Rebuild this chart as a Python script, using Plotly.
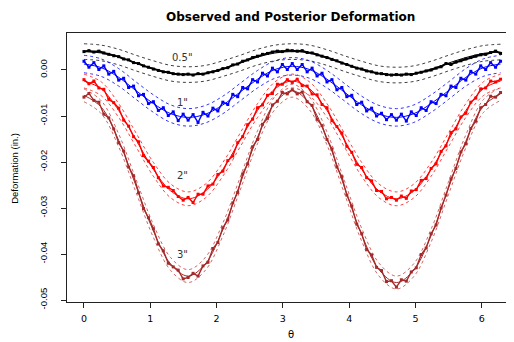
import numpy as np
import plotly.graph_objects as go

# ---------------- data ----------------
N_OBS = 85            # observed sample positions over [0, 2*pi]
N_FIT = 25            # posterior curve knots over [0, 2*pi]
theta_obs = np.linspace(0, 2 * np.pi, N_OBS)
theta_fit = np.linspace(0, 2 * np.pi, N_FIT)

labels = ['0.5"', '1"', '2"', '3"']
label_theta = 1.48
label_y = [0.0028, -0.0070, -0.0229, -0.0400]

obs_05 = [0.0040, 0.0042, 0.0039, 0.0041, 0.0037, 0.0034, 0.0031, 0.0029, 0.0024, 0.0022,
          0.0016, 0.0014, 0.0009, 0.0006, 0.0002, -0.0001, -0.0004, -0.0005, -0.0008, -0.0009,
          -0.0010, -0.0009, -0.0011, -0.0008, -0.0009, -0.0006, -0.0004, -0.0001, 0.0003, 0.0005,
          0.0011, 0.0013, 0.0019, 0.0022, 0.0027, 0.0030, 0.0034, 0.0036, 0.0039, 0.0041,
          0.0040, 0.0043, 0.0042, 0.0041, 0.0042, 0.0038, 0.0037, 0.0033, 0.0030, 0.0027,
          0.0023, 0.0020, 0.0015, 0.0012, 0.0008, 0.0004, 0.0002, -0.0002, -0.0004, -0.0007,
          -0.0008, -0.0010, -0.0011, -0.0010, -0.0011, -0.0009, -0.0010, -0.0007, -0.0005, -0.0002,
          0.0000, 0.0004, 0.0007, 0.0014, 0.0012, 0.0017, 0.0020, 0.0024, 0.0027, 0.0030,
          0.0033, 0.0034, 0.0038, 0.0041, 0.0036]

obs_1 = [0.0019, 0.0006, 0.0016, 0.0001, 0.0009, -0.0009, -0.0003, -0.0022, -0.0018, -0.0038,
         -0.0035, -0.0056, -0.0053, -0.0073, -0.0069, -0.0088, -0.0082, -0.0099, -0.0091, -0.0110,
         -0.0096, -0.0109, -0.0097, -0.0114, -0.0092, -0.0100, -0.0083, -0.0089, -0.0070, -0.0075,
         -0.0053, -0.0058, -0.0038, -0.0041, -0.0021, -0.0026, -0.0007, -0.0013, 0.0004, -0.0004,
         0.0012, 0.0001, 0.0014, 0.0001, 0.0012, -0.0004, 0.0004, -0.0013, -0.0007, -0.0026,
         -0.0021, -0.0043, -0.0038, -0.0058, -0.0055, -0.0075, -0.0070, -0.0089, -0.0083, -0.0100,
         -0.0094, -0.0108, -0.0097, -0.0109, -0.0096, -0.0111, -0.0091, -0.0099, -0.0082, -0.0088,
         -0.0069, -0.0073, -0.0053, -0.0056, -0.0035, -0.0038, -0.0018, -0.0022, -0.0003, -0.0009,
         0.0009, 0.0001, 0.0016, 0.0006, 0.0019]

obs_2 = [-0.0021, -0.0030, -0.0024, -0.0039, -0.0042, -0.0064, -0.0071, -0.0083, -0.0109, -0.0122,
         -0.0145, -0.0156, -0.0186, -0.0198, -0.0212, -0.0234, -0.0252, -0.0255, -0.0262, -0.0275,
         -0.0283, -0.0277, -0.0288, -0.0270, -0.0270, -0.0252, -0.0248, -0.0227, -0.0220, -0.0197,
         -0.0187, -0.0158, -0.0145, -0.0119, -0.0107, -0.0082, -0.0076, -0.0055, -0.0051, -0.0031,
         -0.0031, -0.0021, -0.0027, -0.0020, -0.0034, -0.0035, -0.0052, -0.0054, -0.0075, -0.0082,
         -0.0110, -0.0123, -0.0137, -0.0166, -0.0179, -0.0205, -0.0212, -0.0234, -0.0241, -0.0262,
         -0.0264, -0.0280, -0.0277, -0.0283, -0.0274, -0.0279, -0.0263, -0.0260, -0.0240, -0.0236,
         -0.0214, -0.0204, -0.0177, -0.0165, -0.0136, -0.0128, -0.0102, -0.0094, -0.0070, -0.0061,
         -0.0041, -0.0039, -0.0024, -0.0026, -0.0020]

obs_3 = [-0.0059, -0.0051, -0.0066, -0.0070, -0.0096, -0.0104, -0.0128, -0.0158, -0.0176, -0.0211,
         -0.0230, -0.0267, -0.0301, -0.0321, -0.0345, -0.0378, -0.0393, -0.0420, -0.0428, -0.0435,
         -0.0454, -0.0451, -0.0442, -0.0448, -0.0426, -0.0418, -0.0388, -0.0375, -0.0343, -0.0326,
         -0.0289, -0.0266, -0.0226, -0.0204, -0.0167, -0.0151, -0.0118, -0.0105, -0.0076, -0.0068,
         -0.0049, -0.0052, -0.0043, -0.0052, -0.0048, -0.0069, -0.0077, -0.0107, -0.0121, -0.0151,
         -0.0172, -0.0211, -0.0232, -0.0272, -0.0296, -0.0335, -0.0356, -0.0390, -0.0402, -0.0429,
         -0.0436, -0.0460, -0.0458, -0.0472, -0.0456, -0.0459, -0.0439, -0.0430, -0.0401, -0.0387,
         -0.0356, -0.0337, -0.0300, -0.0272, -0.0237, -0.0214, -0.0178, -0.0160, -0.0127, -0.0111,
         -0.0082, -0.0075, -0.0057, -0.0059, -0.0049]

mean_05 = [0.0040, 0.0037, 0.0028, 0.0015, 0.0003, -0.0007, -0.0010, -0.0007, 0.0003, 0.0015,
           0.0028, 0.0037, 0.0040, 0.0037, 0.0027, 0.0014, 0.0002, -0.0008, -0.0011, -0.0008,
           0.0002, 0.0015, 0.0027, 0.0036, 0.0039]
upper_05 = [0.0057, 0.0054, 0.0045, 0.0032, 0.0020, 0.0010, 0.0007, 0.0010, 0.0020, 0.0032,
            0.0045, 0.0054, 0.0057, 0.0054, 0.0044, 0.0031, 0.0019, 0.0009, 0.0006, 0.0009,
            0.0019, 0.0032, 0.0044, 0.0053, 0.0056]
lower_05 = [0.0023, 0.0020, 0.0011, -0.0002, -0.0014, -0.0024, -0.0027, -0.0024, -0.0014, -0.0002,
            0.0011, 0.0020, 0.0023, 0.0020, 0.0010, -0.0003, -0.0015, -0.0025, -0.0028, -0.0025,
            -0.0015, -0.0002, 0.0010, 0.0019, 0.0022]

mean_1 = [0.0013, 0.0005, -0.0016, -0.0045, -0.0073, -0.0095, -0.0103, -0.0096, -0.0076, -0.0048,
          -0.0020, 0.0001, 0.0008, 0.0001, -0.0020, -0.0048, -0.0076, -0.0096, -0.0103, -0.0095,
          -0.0073, -0.0045, -0.0016, 0.0005, 0.0013]
upper_1 = [0.0032, 0.0024, 0.0003, -0.0026, -0.0054, -0.0076, -0.0084, -0.0077, -0.0057, -0.0029,
           -0.0001, 0.0020, 0.0027, 0.0020, -0.0001, -0.0029, -0.0057, -0.0077, -0.0084, -0.0076,
           -0.0054, -0.0026, 0.0003, 0.0024, 0.0032]
lower_1 = [-0.0006, -0.0014, -0.0035, -0.0064, -0.0092, -0.0114, -0.0122, -0.0115, -0.0095, -0.0067,
           -0.0039, -0.0018, -0.0011, -0.0018, -0.0039, -0.0067, -0.0095, -0.0115, -0.0122, -0.0114,
           -0.0092, -0.0064, -0.0035, -0.0014, -0.0006]

mean_2 = [-0.0024, -0.0041, -0.0088, -0.0152, -0.0216, -0.0263, -0.0280, -0.0263, -0.0216, -0.0152,
          -0.0088, -0.0041, -0.0024, -0.0041, -0.0088, -0.0152, -0.0216, -0.0263, -0.0280, -0.0263,
          -0.0216, -0.0152, -0.0088, -0.0041, -0.0024]
upper_2 = [-0.0009, -0.0026, -0.0073, -0.0137, -0.0201, -0.0248, -0.0265, -0.0248, -0.0201, -0.0137,
           -0.0073, -0.0026, -0.0009, -0.0026, -0.0073, -0.0137, -0.0201, -0.0248, -0.0265, -0.0248,
           -0.0201, -0.0137, -0.0073, -0.0026, -0.0009]
lower_2 = [-0.0039, -0.0056, -0.0103, -0.0167, -0.0231, -0.0278, -0.0295, -0.0278, -0.0231, -0.0167,
           -0.0103, -0.0056, -0.0039, -0.0056, -0.0103, -0.0167, -0.0231, -0.0278, -0.0295, -0.0278,
           -0.0231, -0.0167, -0.0103, -0.0056, -0.0039]

mean_3 = [-0.0055, -0.0081, -0.0153, -0.0252, -0.0350, -0.0422, -0.0448, -0.0421, -0.0347, -0.0247,
          -0.0146, -0.0072, -0.0045, -0.0073, -0.0149, -0.0254, -0.0358, -0.0434, -0.0462, -0.0435,
          -0.0360, -0.0257, -0.0155, -0.0079, -0.0052]
upper_3 = [-0.0041, -0.0067, -0.0139, -0.0238, -0.0336, -0.0408, -0.0434, -0.0407, -0.0333, -0.0233,
           -0.0132, -0.0058, -0.0031, -0.0059, -0.0135, -0.0240, -0.0344, -0.0420, -0.0448, -0.0421,
           -0.0346, -0.0243, -0.0141, -0.0065, -0.0038]
lower_3 = [-0.0069, -0.0095, -0.0167, -0.0266, -0.0364, -0.0436, -0.0462, -0.0435, -0.0361, -0.0261,
           -0.0160, -0.0086, -0.0059, -0.0087, -0.0163, -0.0268, -0.0372, -0.0448, -0.0476, -0.0449,
           -0.0374, -0.0271, -0.0169, -0.0093, -0.0066]

x_ticks = [0, 1, 2, 3, 4, 5, 6]
y_ticks = [0.00, -0.01, -0.02, -0.03, -0.04, -0.05]
y_ticktext = ["0.00", "-0.01", "-0.02", "-0.03", "-0.04", "-0.05"]

# ---------------- figure ----------------
series = [
    (obs_05, mean_05, upper_05, lower_05, "#000000", "rgba(0,0,0,0.75)", 2.0),
    (obs_1, mean_1, upper_1, lower_1, "#0000FF", "rgba(0,0,255,0.8)", 1.4),
    (obs_2, mean_2, upper_2, lower_2, "#FF0000", "rgba(255,0,0,0.75)", 1.4),
    (obs_3, mean_3, upper_3, lower_3, "#A52A2A", "rgba(190,50,50,0.75)", 1.4),
]

fig = go.Figure()
for obs, mean, up, lo, col, bandcol, lw in series:
    fig.add_trace(go.Scatter(x=theta_obs, y=obs, mode="lines+markers",
                             line=dict(color=col, width=lw),
                             marker=dict(color=col, size=3, symbol="square"),
                             showlegend=False, hoverinfo="skip"))
    fig.add_trace(go.Scatter(x=theta_fit, y=mean, mode="lines",
                             line=dict(color=col, width=1, shape="spline"),
                             showlegend=False, hoverinfo="skip"))
    for b in (up, lo):
        fig.add_trace(go.Scatter(x=theta_fit, y=b, mode="lines",
                                 line=dict(color=bandcol, width=1, dash="3px,3px", shape="spline"),
                                 showlegend=False, hoverinfo="skip"))

for lab, ly in zip(labels, label_y):
    fig.add_annotation(x=label_theta, y=ly, text=lab, showarrow=False,
                       font=dict(family="DejaVu Sans", size=10, color="#333333"),
                       xanchor="center", yanchor="middle")

# title & axis titles
fig.add_annotation(xref="paper", yref="paper", x=0.501, y=1.0925,
                   text="<b>Observed and Posterior Deformation</b>", showarrow=False,
                   font=dict(family="DejaVu Sans", size=12, color="#000000"),
                   xanchor="center", yanchor="top")
fig.add_annotation(xref="paper", yref="paper", x=-0.119, y=0.498,
                   text="Deformation (in.)", showarrow=False, textangle=-90,
                   font=dict(family="Liberation Sans", size=9.5, color="#000000"),
                   xanchor="center", yanchor="middle")
fig.add_annotation(xref="paper", yref="paper", x=0.501, y=-0.120,
                   text="θ", showarrow=False,
                   font=dict(family="DejaVu Sans", size=10, color="#000000"),
                   xanchor="center", yanchor="middle")

# page body has an 8px default margin: figure is sized/offset so the plot box
# lands where the reference has it (left 67px, top 33px, bottom 302px)
fig.update_layout(
    width=506, height=334, autosize=False,
    margin=dict(l=59, r=0, t=25, b=40, pad=0),
    paper_bgcolor="white", plot_bgcolor="white",
    showlegend=False,
)
fig.update_xaxes(range=[-0.256, 6.486], tickvals=x_ticks, ticktext=[str(v) for v in x_ticks],
                 showgrid=False, zeroline=False, automargin=False,
                 showline=True, mirror=True, linecolor="#222222", linewidth=1,
                 ticks="outside", ticklen=5, tickcolor="#222222", tickwidth=1,
                 ticklabelstandoff=3,
                 tickfont=dict(family="DejaVu Sans", size=9.5, color="#000000"))
fig.update_yaxes(range=[-0.05043, 0.00804], tickvals=y_ticks, ticktext=y_ticktext,
                 showgrid=False, zeroline=False, automargin=False,
                 showline=True, mirror=False, linecolor="#222222", linewidth=1,
                 ticks="outside", ticklen=5, tickcolor="#222222", tickwidth=1,
                 tickangle=-90, ticklabelstandoff=10,
                 tickfont=dict(family="Liberation Sans", size=9.5, color="#000000"))

fig.write_html("out.html")
